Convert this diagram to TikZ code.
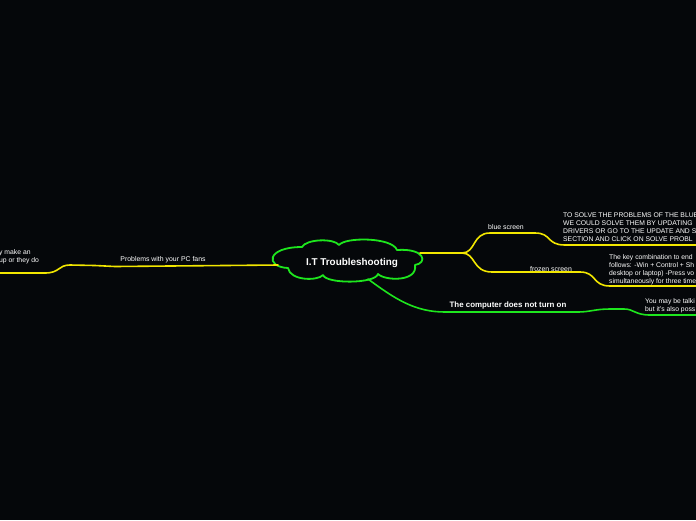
\documentclass[tikz,border=0pt]{standalone}
\usepackage{fontspec}
\setmainfont{Liberation Sans}
\definecolor{bg}{HTML}{05070A}
\definecolor{gr}{HTML}{1EE61E}
\definecolor{yl}{HTML}{F2E600}
\begin{document}
\begin{tikzpicture}[x=1pt,y=-1pt,
  ybr/.style={draw=yl,line width=1.6pt,line cap=round,line join=round},
  gbr/.style={draw=gr,line width=1.6pt,line cap=round,line join=round},
  lbl/.style={text=white,font=\fontsize{6.9}{8}\selectfont,inner sep=0pt},
  body/.style={text=white,font=\fontsize{6.8}{8}\selectfont,inner sep=0pt,align=left,anchor=north west}]
\fill[bg] (0,0) rectangle (696,520);
\useasboundingbox (0,0) rectangle (696,520);
\clip (0,0) rectangle (696,520);
% central cloud
\draw[draw=gr,line width=1.8pt,line join=round]
  (302,247) .. controls (306,239) and (334,238) .. (339,245)
  .. controls (345,237) and (392,237) .. (397,250)
  .. controls (425,248) and (428,263) .. (415,265)
  .. controls (418,282) and (385,281) .. (378,274)
  .. controls (375,284) and (326,284) .. (323,275)
  .. controls (318,281) and (290,281) .. (288,268)
  .. controls (265,267) and (266,247) .. cycle;
\node[text=white,font=\bfseries\fontsize{9.9}{11}\selectfont,inner sep=1pt] (root) at (352,262.5) {I.T Troubleshooting};
% coordinates
\coordinate (lA) at (278,265);
\coordinate (lB) at (70,265);
\coordinate (lC) at (0,273);
\coordinate (rA) at (420,253);
\coordinate (rB) at (462,253);
\coordinate (bEnd) at (696,245);
\coordinate (fEnd) at (696,286);
\coordinate (gA) at (368,279);
\coordinate (gEnd) at (696,315);
% left branch
\draw[ybr] (lA) -- (225,265.5) -- (115,266.5) -- (95,265.5) -- (lB)
   .. controls (58,265) and (60,273) .. (45,273) -- (lC);
\node[lbl,anchor=south] (fans) at (163,263.5) {Problems with your PC fans};
\node[body,anchor=north west] (fanstext) at (-1,249) {y make an\\up or they do};
% right yellow branches
\draw[ybr] (rA) -- (rB) .. controls (476,253) and (472,233) .. (490,233) -- (535,233)
   .. controls (552,233) and (546,245) .. (565,245) -- (bEnd);
\draw[ybr] (rB) .. controls (476,253) and (472,272) .. (492,272) -- (580,272)
   .. controls (597,272) and (592,286) .. (610,286) -- (fEnd);
\node[lbl,anchor=south] (blue) at (506,230) {blue screen};
\node[lbl,anchor=south] (frozen) at (551,272) {frozen screen};
\node[body] (bluetext) at (563,213) {TO SOLVE THE PROBLEMS OF THE BLUE\\WE COULD SOLVE THEM BY UPDATING\\DRIVERS OR GO TO THE UPDATE AND S\\SECTION AND CLICK ON SOLVE PROBL};
\node[body] (frozentext) at (609,254) {The key combination to end\\follows: -Win + Control + Sh\\desktop or laptop) -Press vo\\simultaneously for three time};
% green branch
\draw[gbr] (gA) .. controls (395,299) and (415,312) .. (445,312) -- (578,312)
   .. controls (590,312) and (595,309) .. (610,309) -- (624,309)
   .. controls (634,309) and (635,315) .. (650,315) -- (gEnd);
\node[text=white,font=\bfseries\fontsize{7.9}{9}\selectfont,inner sep=0pt,anchor=south] (power) at (508,309) {The computer does not turn on};
\node[body] (powertext) at (645,298) {You may be talki\\but it's also poss};
\end{tikzpicture}
\end{document}
